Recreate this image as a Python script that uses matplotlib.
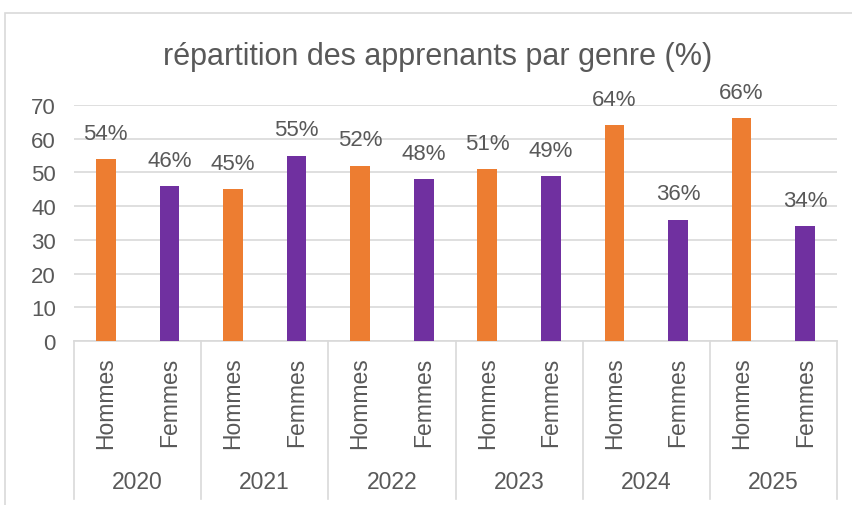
import matplotlib.pyplot as plt
from matplotlib.patches import Rectangle

years = ['2020', '2021', '2022', '2023', '2024', '2025']
genres = ['Hommes', 'Femmes']
hommes = [54, 45, 52, 51, 64, 66]
femmes = [46, 55, 48, 49, 36, 34]
yticks = [0, 10, 20, 30, 40, 50, 60, 70]

orange = '#ED7D31'
purple = '#7030A0'
grey_txt = '#595959'
grey_line = '#D9D9D9'

plt.rcParams['font.family'] = ['Liberation Sans', 'DejaVu Sans']

W, H = 852, 506
fig = plt.figure(figsize=(W / 100, H / 100), dpi=100)

# chart area border
fig.patches.append(Rectangle((5 / W, -0.1), 1.2, (H - 14) / H + 0.1,
                             transform=fig.transFigure, fill=False,
                             edgecolor=grey_line, linewidth=1.2))

left, right, top, bottom = 74, 837, 106, 342
ax = fig.add_axes([left / W, (H - bottom) / H, (right - left) / W, (bottom - top) / H])

values = []
colors = []
labels = []
for h, f in zip(hommes, femmes):
    values += [h, f]
    colors += [orange, purple]
    labels += genres
xs = list(range(len(values)))

bars = ax.bar(xs, values, width=0.31, color=colors, zorder=3)
for x, v in zip(xs, values):
    ax.annotate(f'{v}%', (x, v), xytext=(0, 11), textcoords='offset points',
                ha='center', va='bottom', fontsize=16, color=grey_txt)

ax.set_xlim(-0.5, len(values) - 0.5)
ax.set_ylim(0, 70)
ax.set_yticks(yticks)
ax.grid(axis='y', color=grey_line, linewidth=1.2, zorder=0)
for s in ['top', 'right', 'left']:
    ax.spines[s].set_visible(False)
ax.spines['bottom'].set_color(grey_line)
ax.spines['bottom'].set_linewidth(1.2)
ax.tick_params(axis='y', length=0, labelsize=16, labelcolor=grey_txt, pad=13)
ax.set_xticks(xs)
ax.set_xticklabels(labels, rotation=90, va='top')
ax.tick_params(axis='x', length=0, labelsize=16.5, labelcolor=grey_txt, pad=11)

trans = ax.get_xaxis_transform()
sep_bottom = -(500 - bottom) / (bottom - top)
for i in range(len(years) + 1):
    ax.plot([2 * i - 0.5] * 2, [0, sep_bottom], transform=trans, clip_on=False,
            color=grey_line, linewidth=1.2)
year_y = -(483 - bottom) / (bottom - top)
for i, yr in enumerate(years):
    ax.text(2 * i + 0.5, year_y, yr, transform=trans, ha='center', va='center',
            fontsize=16.5, color=grey_txt)

fig.text(438 / W, 1 - 65 / H, 'répartition des apprenants par genre (%)',
         ha='center', va='baseline', fontsize=22, color=grey_txt)

fig.savefig('out.png', dpi=100)
